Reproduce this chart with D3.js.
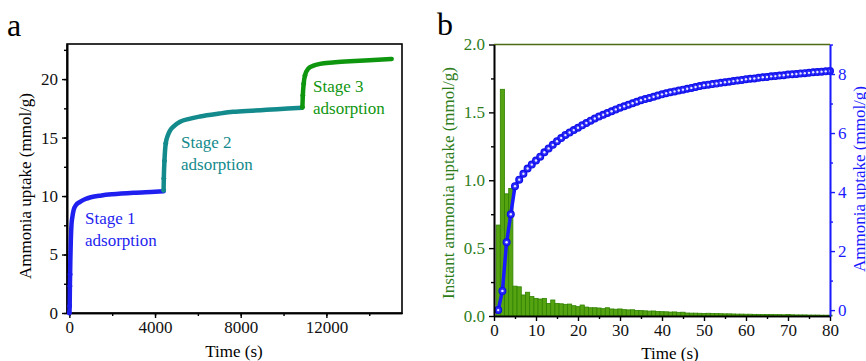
<!DOCTYPE html>
<html>
<head>
<meta charset="utf-8">
<script src="https://cdn.jsdelivr.net/npm/d3@7"></script>
<style>
body { margin: 0; background: #fff; }
.domain { stroke-width: 1.6; }
.tick line { stroke-width: 1.4; }
</style>
</head>
<body>
<svg id="chart" width="866" height="361"></svg>
<script>
// panel a: cumulative uptake, three stages [time (s), uptake (mmol/g)]
var stage1 = [[0, 0], [15, 0.6], [25, 2.3], [35, 3.3], [45, 4.4], [55, 5.2], [70, 6.3], [100, 7.6], [140, 8.2],
    [200, 8.8], [300, 9.2], [500, 9.5], [750, 9.75], [1000, 9.9], [1500, 10.05], [2000, 10.15], [3000, 10.28], [4000, 10.36], [4400, 10.4]];
var stage2 = [[4400, 10.5], [4410, 11.5], [4440, 13.0], [4500, 14.5], [4600, 15.2], [4700, 15.6], [4900, 16.0], [5170, 16.35],
    [5600, 16.6], [6100, 16.8], [7000, 17.05], [7650, 17.2], [8500, 17.3], [9210, 17.37], [10200, 17.48], [10870, 17.55]];
var stage3 = [[10880, 17.6], [10900, 18.6], [10940, 19.6], [11000, 20.3], [11160, 20.9], [11400, 21.15], [11700, 21.3],
    [12300, 21.42], [13100, 21.52], [14000, 21.62], [15050, 21.72]];
var stageNames = ["Stage 1", "Stage 2", "Stage 3"];
var stageColors = ["#1f1ff0", "#138a8c", "#0f960f"];

// panel b: instant uptake bars (left axis) and cumulative uptake (right axis), t = 1..80 s
var seconds = d3.range(1, 81);
var instantUptake = [
    0.67, 1.67, 0.90, 0.94, 0.22, 0.215, 0.155, 0.175, 0.143, 0.13,
    0.125, 0.13, 0.093, 0.118, 0.093, 0.09, 0.086, 0.088, 0.076, 0.069,
    0.081, 0.066, 0.061, 0.061, 0.059, 0.054, 0.061, 0.052, 0.05, 0.052,
    0.047, 0.045, 0.046, 0.041, 0.04, 0.038, 0.036, 0.037, 0.033, 0.032,
    0.031, 0.029, 0.03, 0.027, 0.028, 0.022, 0.021, 0.021, 0.02, 0.019,
    0.02, 0.018, 0.018, 0.017, 0.016, 0.016, 0.015, 0.014, 0.014, 0.013,
    0.013, 0.012, 0.012, 0.011, 0.011, 0.011, 0.01, 0.01, 0.009, 0.011,
    0.009, 0.008, 0.008, 0.008, 0.007, 0.007, 0.007, 0.006, 0.006, 0.006];
var totalUptake = [
    0.0, 0.65, 2.3, 3.25, 4.2, 4.42, 4.62, 4.8, 4.93, 5.07,
    5.2, 5.35, 5.48, 5.6, 5.72, 5.83, 5.93, 6.02, 6.1, 6.18,
    6.26, 6.34, 6.42, 6.49, 6.56, 6.62, 6.68, 6.74, 6.8, 6.86,
    6.91, 6.96, 7.01, 7.06, 7.11, 7.15, 7.19, 7.23, 7.27, 7.31,
    7.35, 7.38, 7.41, 7.44, 7.47, 7.5, 7.53, 7.56, 7.59, 7.62,
    7.64, 7.66, 7.68, 7.7, 7.72, 7.74, 7.76, 7.78, 7.8, 7.82,
    7.84, 7.85, 7.87, 7.89, 7.9, 7.92, 7.93, 7.95, 7.96, 7.98,
    7.99, 8.0, 8.02, 8.03, 8.04, 8.06, 8.07, 8.08, 8.09, 8.1];

var serif = "'Liberation Serif', 'Times New Roman', serif";
var svg = d3.select("#chart");

// ---------- panel a ----------
var xa = d3.scaleLinear().domain([-110, 15530]).range([67, 402]);
var ya = d3.scaleLinear().domain([0, 23]).range([313, 44]);
var ga = svg.append("g");

ga.append("g").attr("transform", "translate(0,313)")
    .call(d3.axisBottom(xa).tickValues(d3.range(0, 15001, 2000)).tickSize(3).tickFormat("").tickSizeOuter(0));
ga.append("g").attr("transform", "translate(0,313)")
    .call(d3.axisBottom(xa).tickValues([0, 4000, 8000, 12000]).tickFormat(d3.format("d")).tickSize(5).tickPadding(3).tickSizeOuter(0));
ga.append("g").attr("transform", "translate(67,0)")
    .call(d3.axisLeft(ya).tickValues(d3.range(0, 23, 2.5)).tickSize(3).tickFormat("").tickSizeOuter(0));
ga.append("g").attr("transform", "translate(67,0)")
    .call(d3.axisLeft(ya).tickValues([0, 5, 10, 15, 20]).tickSize(5).tickPadding(4).tickSizeOuter(0));
ga.append("rect").attr("x", 67).attr("y", 44).attr("width", 335).attr("height", 269)
    .attr("fill", "none").attr("stroke", "#000").attr("stroke-width", 1.6);

var lineA = d3.line().x(function (d) { return xa(d[0]); }).y(function (d) { return ya(d[1]); })
    .curve(d3.curveMonotoneX);
[stage1, stage2, stage3].forEach(function (s, i) {
    ga.append("path").datum(s).attr("d", lineA).attr("fill", "none")
        .attr("stroke", stageColors[i]).attr("stroke-width", 4.5).attr("stroke-linecap", "round");
    ga.selectAll(".pt" + i).data(s.slice(0, 4)).enter().append("circle")
        .attr("cx", function (d) { return xa(d[0]); }).attr("cy", function (d) { return ya(d[1]); })
        .attr("r", 2).attr("fill", stageColors[i]).attr("stroke", stageColors[i]).attr("stroke-width", 1);
});

var stageLabelPos = [[85, 224], [181, 148], [313, 92]];
stageNames.forEach(function (n, i) {
    var t = ga.append("text").attr("x", stageLabelPos[i][0]).attr("y", stageLabelPos[i][1])
        .attr("fill", stageColors[i]).style("font-size", "17px");
    t.append("tspan").attr("x", stageLabelPos[i][0]).text(n);
    t.append("tspan").attr("x", stageLabelPos[i][0]).attr("dy", 22).text("adsorption");
});

ga.append("text").attr("x", 234).attr("y", 357).attr("text-anchor", "middle").style("font-size", "17px").text("Time (s)");
ga.append("text").attr("transform", "translate(31,186) rotate(-90)").attr("text-anchor", "middle")
    .style("font-size", "17px").text("Ammonia uptake (mmol/g)");
ga.append("text").attr("x", 7).attr("y", 36).style("font-size", "32px").text("a");

// ---------- panel b ----------
var xb = d3.scaleLinear().domain([0, 80]).range([494, 830]);
var yl = d3.scaleLinear().domain([0, 2]).range([316, 44.5]);
var yr = d3.scaleLinear().domain([-0.2, 9]).range([316, 44.5]);
var gb = svg.append("g");
var green = "#2e7d1a", blue = "#1a1aff";

var bw = xb(1) - xb(0);
gb.selectAll("rect.bar").data(seconds).enter().append("rect").attr("class", "bar")
    .attr("x", function (d) { return xb(d) - bw / 2; })
    .attr("y", function (d, i) { return yl(instantUptake[i]); })
    .attr("width", bw)
    .attr("height", function (d, i) { return yl(0) - yl(instantUptake[i]); })
    .attr("fill", "#56a312").attr("stroke", "#2f8200").attr("stroke-width", 0.8);

var lineB = d3.line().x(function (d) { return xb(d); }).y(function (d, i) { return yr(totalUptake[i]); });
gb.append("path").datum(seconds).attr("d", lineB).attr("fill", "none").attr("stroke", blue).attr("stroke-width", 3.5);
gb.selectAll("circle.pt").data(seconds).enter().append("circle").attr("class", "pt")
    .attr("cx", function (d) { return xb(d); }).attr("cy", function (d, i) { return yr(totalUptake[i]); })
    .attr("r", 3.4).attr("fill", "#2a2aff").attr("stroke", "#1010e8").attr("stroke-width", 1.2);
gb.selectAll("circle.hl").data(seconds).enter().append("circle").attr("class", "hl")
    .attr("cx", function (d) { return xb(d); }).attr("cy", function (d, i) { return yr(totalUptake[i]); })
    .attr("r", 1.2).attr("fill", "#e8e8ff");

// frame top
gb.append("line").attr("x1", 494).attr("x2", 830).attr("y1", 44.5).attr("y2", 44.5)
    .attr("stroke", "#4d6b12").attr("stroke-width", 1.6);

gb.append("g").attr("transform", "translate(0,316)")
    .call(d3.axisBottom(xb).tickValues(d3.range(5, 80, 10)).tickSize(3).tickFormat("").tickSizeOuter(0));
gb.append("g").attr("class", "bx").attr("transform", "translate(0,316)")
    .call(d3.axisBottom(xb).tickValues(d3.range(0, 81, 10)).tickSize(5).tickPadding(3).tickSizeOuter(0));
gb.append("g").attr("transform", "translate(494,0)")
    .call(d3.axisLeft(yl).tickValues(d3.range(0.25, 2, 0.5)).tickSize(3).tickFormat("").tickSizeOuter(0));
gb.append("g").attr("class", "bl").attr("transform", "translate(494,0)")
    .call(d3.axisLeft(yl).tickValues([0, 0.5, 1, 1.5, 2]).tickFormat(d3.format(".1f")).tickSize(5).tickPadding(4).tickSizeOuter(0));
gb.append("g").attr("class", "brm").attr("transform", "translate(830,0)")
    .call(d3.axisRight(yr).tickValues([1, 3, 5, 7, 9]).tickSize(3).tickFormat("").tickSizeOuter(0));
gb.append("g").attr("class", "br").attr("transform", "translate(830,0)")
    .call(d3.axisRight(yr).tickValues([0, 2, 4, 6, 8]).tickSize(5).tickPadding(3).tickSizeOuter(0));

gb.selectAll(".bl .tick text").attr("fill", green);
gb.selectAll(".br .tick text").attr("fill", blue);
gb.selectAll(".br path, .br line, .brm path, .brm line").attr("stroke", blue);

gb.append("text").attr("x", 670).attr("y", 359).attr("text-anchor", "middle").style("font-size", "17px").text("Time (s)");
gb.append("text").attr("transform", "translate(454,183) rotate(-90)").attr("text-anchor", "middle")
    .attr("fill", green).style("font-size", "17px").text("Instant ammonia uptake (mmol/g)");
gb.append("text").attr("transform", "translate(865,179) rotate(-90)").attr("text-anchor", "middle")
    .attr("fill", blue).style("font-size", "17px").text("Ammonia uptake (mmol/g)");
gb.append("text").attr("x", 437).attr("y", 35).style("font-size", "32px").text("b");

// serif everywhere, same size for all tick labels
svg.selectAll("g").attr("font-family", null);
svg.selectAll("text").style("font-family", serif);
svg.selectAll(".tick text").style("font-size", "17px");
svg.selectAll(".tick text:not([fill])").attr("fill", "#111");
ga.selectAll(".tick text").attr("fill", "#111");
gb.selectAll(".bx .tick text").attr("fill", "#111");
</script>
</body>
</html>
